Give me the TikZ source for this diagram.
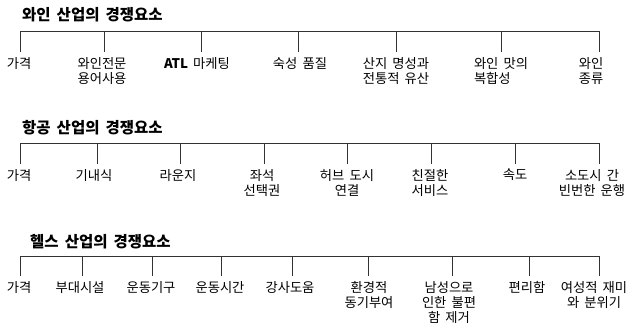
\documentclass[tikz,border=0pt]{standalone}
\usepackage{fontspec}
\setmainfont{Noto Sans CJK KR}[WordSpace=1.7]
\newfontfamily\titlefont{Noto Sans CJK KR}[WordSpace=1.7]
\begin{document}
\begin{tikzpicture}[x=1pt,y=-1pt,
  ttl/.style={anchor=west,inner sep=0pt,font=\titlefont\fontsize{15.5}{18}\selectfont\bfseries},
  lbl/.style={anchor=north,inner sep=0pt,outer ysep=5pt,align=center,font=\fontsize{13.3}{15}\selectfont},
  bar/.style={line width=0.9pt,draw=black!80},
  tick/.style={line width=0.9pt,draw=black!80}]
\useasboundingbox (0,0) rectangle (629,327);
% ---------- wine ----------
\node[ttl] (wt) at (22,15) {와인 산업의 경쟁요소};
\coordinate (wa) at (20,31); \coordinate (wz) at (599,31);
\draw[bar] (wa) -- (wz);
\foreach \n/\tx/\lx/\txt in {1/20/19/가격, 2/104/102/와인전문\\용어사용, 3/201/197/{\bfseries ATL} 마케팅, 4/298/300/숙성 품질, 5/396/396/산지 명성과\\전통적 유산, 7/599/591/와인\\종류}{
  \coordinate (w\n t) at (\tx,31);
  \node[lbl] (w\n) at (\lx,52) {\txt};
  \draw[tick] (w\n t) -- (w\n t |- w\n.north);
}
\coordinate (w6t) at (501,31);
\node[lbl,align=left] (w6) at (501,52) {와인 맛의\\복합성};
\draw[tick] (w6t) -- (w6t |- w6.north);
% ---------- airline ----------
\node[ttl] (at) at (22,128) {항공 산업의 경쟁요소};
\coordinate (aa) at (20,143); \coordinate (az) at (599,143);
\draw[bar] (aa) -- (az);
\foreach \n/\tx/\lx/\txt in {1/20/19/가격, 2/97/94/기내식, 3/180/178/라운지, 4/264/262/좌석\\선택권, 5/347/347/허브 도시\\연결, 6/431/430/친절한\\서비스, 7/515/515/속도, 8/599/592/소도시 간\\빈번한 운행}{
  \coordinate (a\n t) at (\tx,143);
  \node[lbl] (a\n) at (\lx,164) {\txt};
  \draw[tick] (a\n t) -- (a\n t |- a\n.north);
}
% ---------- health ----------
\node[ttl] (ht) at (30,242) {헬스 산업의 경쟁요소};
\coordinate (ha) at (20,256); \coordinate (hz) at (599,256);
\draw[bar] (ha) -- (hz);
\foreach \n/\tx/\lx/\txt in {1/20/19/가격, 2/82/80/부대시설, 3/152/151/운동기구, 4/221/220/운동시간, 5/292/290/강사도움, 6/368/369/환경적\\동기부여, 7/452/449/남성으로\\인한 불편\\함 제거, 8/529/527/편리함, 9/599/594/여성적 재미\\와 분위기}{
  \coordinate (h\n t) at (\tx,256);
  \node[lbl] (h\n) at (\lx,276) {\txt};
  \draw[tick] (h\n t) -- (h\n t |- h\n.north);
}
\end{tikzpicture}
\end{document}
